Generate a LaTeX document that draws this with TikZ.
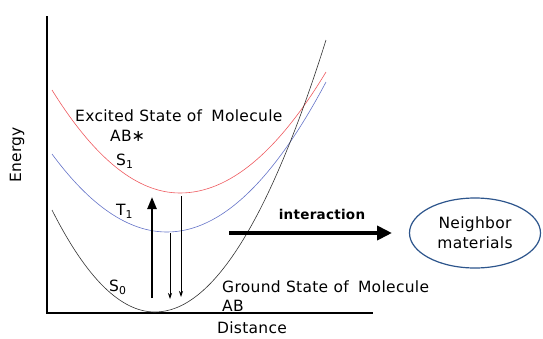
\documentclass[tikz,border=0pt]{standalone}
\usepackage{fontspec}
\setmainfont{DejaVu Sans}[LetterSpace=2]
\usetikzlibrary{arrows.meta,shapes.geometric}
\definecolor{redc}{RGB}{238,90,95}
\definecolor{bluec}{RGB}{100,115,200}
\definecolor{ellc}{RGB}{45,85,140}
\tikzset{
  lbl/.style={inner sep=0pt, font=\fontsize{15.5}{17}\selectfont, anchor=west},
  curve/.style={line width=0.6pt},
  axis/.style={line width=1.3pt, black},
  downarr/.style={line width=0.8pt, -{Stealth[length=6pt,width=4pt]}},
}
\begin{document}
\begin{tikzpicture}[x=1pt,y=-1pt]
\useasboundingbox (0,0) rectangle (543,338);
% axes
\coordinate (orig) at (47,313);
\coordinate (ytop) at (47,16);
\coordinate (xend) at (373,313);
\draw[axis] (ytop) -- (orig) -- (xend);
% curves
\draw[curve, redc] (52,90) .. controls (94.7,158.7) and (137.3,193) .. (180,193)
  .. controls (228.7,193) and (277.3,152.7) .. (326,72);
\draw[curve, bluec] (52,154) .. controls (90.3,206) and (128.7,232) .. (167,232)
  .. controls (220,232) and (273,182) .. (326,82);
\draw[curve, black!80] (52,210) .. controls (86.3,278) and (120.7,312) .. (155,312)
  .. controls (212,312) and (269,221.3) .. (326,40);
% labels
\node[lbl] (exc) at (75,116) {Excited State of\hspace{0.6em}Molecule};
\node[lbl] (abs) at (110,136) {AB{\fontsize{16}{16}\selectfont\char"2217}};
\node[lbl] (s1) at (116,161) {S\textsubscript{1}};
\node[lbl] (t1) at (116,211) {T\textsubscript{1}};
\node[lbl] (s0) at (109,287) {S\textsubscript{0}};
\node[lbl] (gnd) at (222,287) {Ground State of\hspace{0.6em}Molecule};
\node[lbl] (ab) at (222,306) {AB};
\node[lbl, anchor=center, rotate=90] (energy) at (17,155) {Energy};
\node[lbl, anchor=base] (dist) at (252,333) {Distance};
% transition arrows
\coordinate (upS) at (152,298);
\coordinate (upE) at (152,197);
\draw[line width=2.4pt, -{Triangle[length=12pt,width=9pt]}] (upS) -- (upE);
\coordinate (d1S) at (170,233);
\coordinate (d1E) at (170,299);
\draw[downarr] (d1S) -- (d1E);
\coordinate (d2S) at (181,196);
\coordinate (d2E) at (181,297);
\draw[downarr] (d2S) -- (d2E);
% interaction
\node[draw=ellc, line width=1.2pt, ellipse, minimum width=131pt, minimum height=70pt, inner sep=0pt, align=center, font=\fontsize{15.5}{20}\selectfont] (nb) at (475,233) {Neighbor\\materials};
\coordinate (iaS) at (229,233);
\coordinate (iaE) at (392,233);
\draw[line width=4pt, -{Triangle[length=15pt,width=14pt]}] (iaS) -- (iaE);
\node[inner sep=0pt, font=\bfseries\fontsize{13.5}{15}\selectfont] (inter) at (322,214) {interaction};
\end{tikzpicture}
\end{document}
